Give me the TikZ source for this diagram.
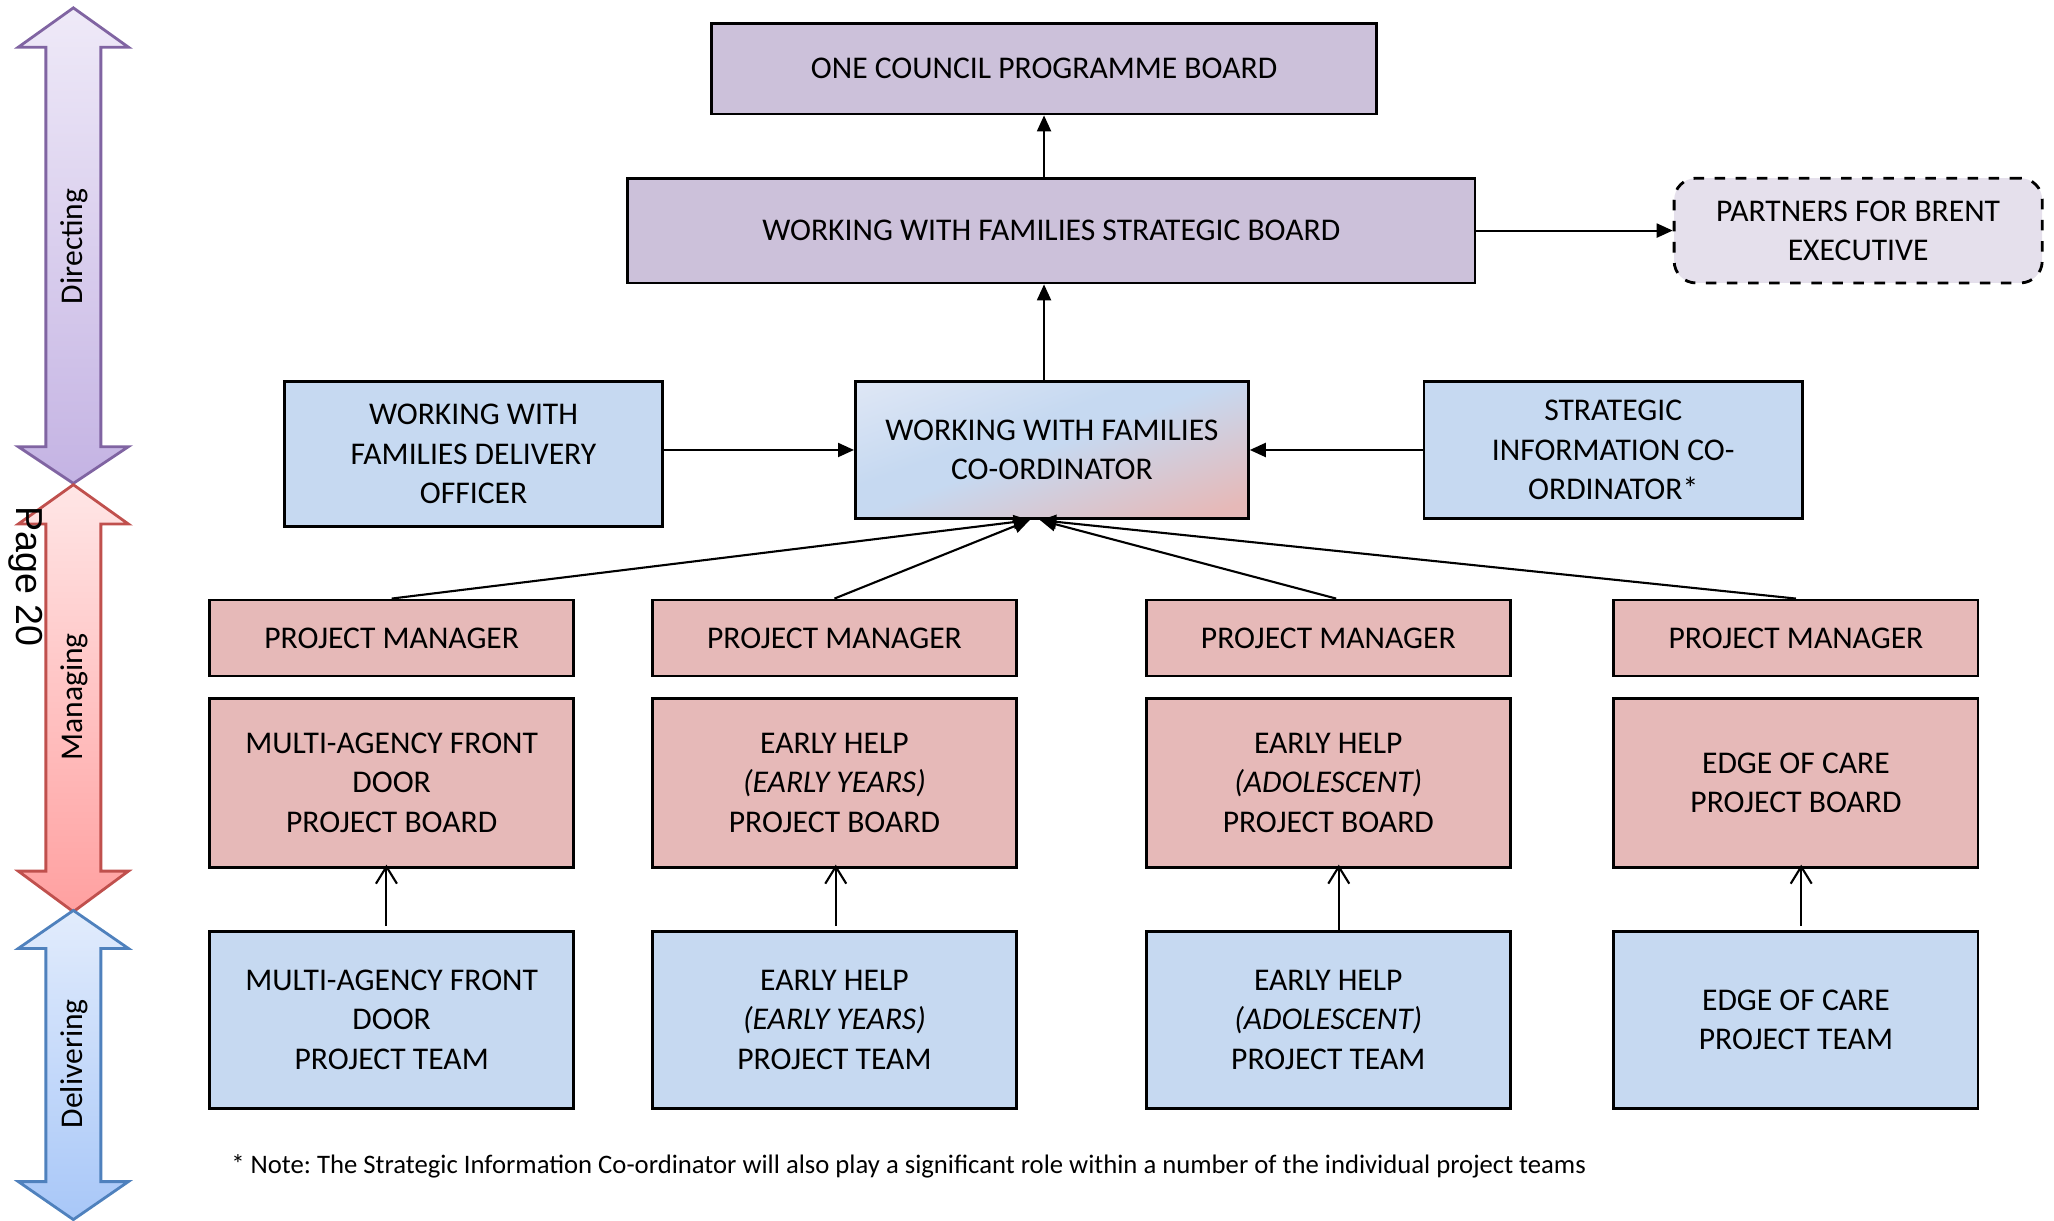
\documentclass[tikz,border=0pt]{standalone}
\usepackage{fontspec}
\setmainfont{Carlito}
\newfontfamily\pagefont{Liberation Sans}
\usetikzlibrary{arrows.meta,calc}
\frenchspacing
\definecolor{boardpurple}{HTML}{CCC1DA}
\definecolor{partnerpurple}{HTML}{E5E0EC}
\definecolor{paleblue}{HTML}{C6D9F1}
\definecolor{lightblue}{HTML}{DFE7F5}
\definecolor{palered}{HTML}{E6B9B8}
\definecolor{dirTop}{HTML}{EFEAF8}
\definecolor{dirBot}{HTML}{C4B3E3}
\definecolor{dirEdge}{HTML}{8064A2}
\definecolor{manTop}{HTML}{FFE6E6}
\definecolor{manBot}{HTML}{FFA0A0}
\definecolor{manEdge}{HTML}{C0504D}
\definecolor{delTop}{HTML}{E2ECFC}
\definecolor{delBot}{HTML}{A8C7F8}
\definecolor{delEdge}{HTML}{4F81BD}
% diagonal fill of the co-ordinator box: pale blue fading to pink at one corner
\pgfdeclareverticalshading{coordshade}{100bp}{%
  color(0bp)=(palered); color(22bp)=(palered);
  color(51bp)=(paleblue); color(58bp)=(paleblue);
  color(82bp)=(lightblue); color(100bp)=(lightblue)}
\begin{document}
\begin{tikzpicture}[x=0.0131cm,y=-0.0131cm,
  box/.style={draw=black,line width=0.8pt,align=center,inner sep=0pt,
    font=\fontsize{9}{11.2}\selectfont},
  sz/.style 2 args={minimum width=#1*0.0131cm,minimum height=#2*0.0131cm},
  purplebox/.style={box,fill=boardpurple},
  bluebox/.style={box,fill=paleblue},
  redbox/.style={box,fill=palered},
  link/.style={line width=0.6pt,-{Triangle[length=1.6mm,width=1.4mm]}},
  uplink/.style={line width=0.6pt,-{Straight Barb[length=1.7mm,width=2.1mm]}},
  band/.style={line width=0.8pt},
  bandlabel/.style={rotate=90,font=\fontsize{9}{11}\selectfont}]

\useasboundingbox (0,0) rectangle (1568,932);

% ---- level bands on the left ----
\shade[band,top color=dirTop,bottom color=dirBot,draw=dirEdge]
  (56,6) -- (98,36) -- (77,36) -- (77,341) -- (98,341) -- (56,369)
  -- (14,341) -- (35,341) -- (35,36) -- (14,36) -- cycle;
\shade[band,top color=manTop,bottom color=manBot,draw=manEdge]
  (56,370) -- (98,400) -- (77,400) -- (77,665) -- (98,665) -- (56,696)
  -- (14,665) -- (35,665) -- (35,400) -- (14,400) -- cycle;
\shade[band,top color=delTop,bottom color=delBot,draw=delEdge]
  (56,695) -- (98,724) -- (77,724) -- (77,902) -- (98,902) -- (56,931)
  -- (14,902) -- (35,902) -- (35,724) -- (14,724) -- cycle;
\node[bandlabel] (dirlab) at (57,188) {Directing};
\node[bandlabel] (manlab) at (57,532) {Managing};
\node[bandlabel] (dellab) at (57,812) {Delivering};
\node[rotate=-90,font=\pagefont\fontsize{10.7}{12}\selectfont] (pagenum) at (20,440) {Page 20};

% ---- directing level ----
\node[purplebox,sz={508}{69}] (council) at (797,52.5) {ONE COUNCIL PROGRAMME BOARD};
\node[purplebox,sz={647}{80}] (strategic) at (802.5,176) {WORKING WITH FAMILIES STRATEGIC BOARD};
\node[box,fill=partnerpurple,dashed,rounded corners=2.2mm,sz={281}{80}] (partners) at (1418.5,176)
  {PARTNERS FOR BRENT\\EXECUTIVE};

% ---- managing level ----
\node[bluebox,sz={289}{111}] (officer) at (361.5,346.5) {WORKING WITH\\FAMILIES DELIVERY\\OFFICER};
\node[box,sz={300}{105},shading=coordshade,shading angle=20] (coord) at (803,343.5)
  {WORKING WITH FAMILIES\\CO-ORDINATOR};
\node[bluebox,sz={289}{105}] (info) at (1231.5,343.5) {STRATEGIC\\INFORMATION CO-\\ORDINATOR*};

\foreach \i/\x in {1/299,2/637,3/1014,4/1371}{
  \node[redbox,sz={278}{58}] (pm\i) at (\x,487) {PROJECT MANAGER};
}
\node[redbox,sz={278}{129}] (board1) at (299,597.5) {MULTI-AGENCY FRONT\\DOOR\\PROJECT BOARD};
\node[redbox,sz={278}{129}] (board2) at (637,597.5) {EARLY HELP\\\textit{(EARLY YEARS)}\\PROJECT BOARD};
\node[redbox,sz={278}{129}] (board3) at (1014,597.5) {EARLY HELP\\\textit{(ADOLESCENT)}\\PROJECT BOARD};
\node[redbox,sz={278}{129}] (board4) at (1371,597.5) {EDGE OF CARE\\PROJECT BOARD};

% ---- delivering level ----
\node[bluebox,sz={278}{135}] (team1) at (299,778.5) {MULTI-AGENCY FRONT\\DOOR\\PROJECT TEAM};
\node[bluebox,sz={278}{135}] (team2) at (637,778.5) {EARLY HELP\\\textit{(EARLY YEARS)}\\PROJECT TEAM};
\node[bluebox,sz={278}{135}] (team3) at (1014,778.5) {EARLY HELP\\\textit{(ADOLESCENT)}\\PROJECT TEAM};
\node[bluebox,sz={278}{135}] (team4) at (1371,778.5) {EDGE OF CARE\\PROJECT TEAM};

\node[anchor=west,inner sep=0pt,font=\fontsize{7.6}{9}\selectfont] (note) at (176,890)
  {* Note: The Strategic Information Co-ordinator will also play a significant role within a number of the individual project teams};

% ---- connectors ----
\draw[link] (strategic.north -| council.south) -- (council.south);
\draw[link] (coord.north -| council.south) -- (strategic.south -| council.south);
\draw[link] (strategic.east) -- (partners.west);
\draw[link] (officer.east |- coord.west) -- (coord.west);
\draw[link] (info.west |- coord.east) -- (coord.east);

\coordinate (inL) at ($(coord.south)+(-17,0)$);
\coordinate (inR) at ($(coord.south)+(-9,0)$);
\draw[link] (pm1.north) -- (inL);
\draw[link] (pm2.north) -- (inL);
\draw[link] ($(pm3.north)+(6,0)$) -- (inR);
\draw[link] (pm4.north) -- (inR);

\draw[uplink] ($(team1.north)+(-4,-3)$) -- ($(board1.south)+(-4,-3)$);
\draw[uplink] ($(team2.north)+(1,-3)$) -- ($(board2.south)+(1,-3)$);
\draw[uplink] ($(team3.north)+(8,0)$) -- ($(board3.south)+(8,-3)$);
\draw[uplink] ($(team4.north)+(4,-3)$) -- ($(board4.south)+(4,-3)$);
\end{tikzpicture}
\end{document}
